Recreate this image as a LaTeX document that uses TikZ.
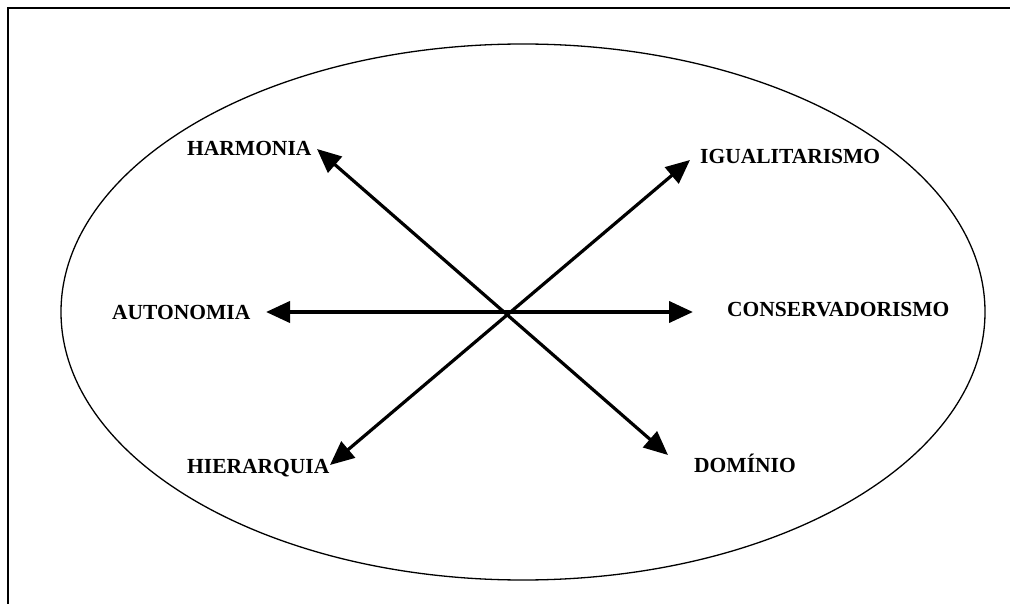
\documentclass[tikz,border=0pt]{standalone}
\usepackage{fontspec}
\setmainfont{Liberation Serif}
\usetikzlibrary{positioning,arrows.meta}

\tikzset{
  valor/.style={font=\fontsize{21.5}{25}\selectfont\bfseries, inner sep=0pt},
  seta/.style={{Triangle[length=24pt,width=21pt]}-{Triangle[length=24pt,width=21pt]}, line width=3.2pt},
}

\begin{document}
\begin{tikzpicture}[x=1pt,y=-1pt]

\useasboundingbox (0,0) rectangle (1010,604);

% moldura
\draw[line width=1.5pt] (1010,8) --(8,8) --(8,604);

\draw[line width=1.3pt] (523,312) ellipse [x radius=462, y radius=268];

% pontas das setas
\coordinate (c) at (510,312);
\coordinate (pH) at (317,149);
\coordinate (pI) at (690,160);
\coordinate (pA) at (266,312);
\coordinate (pC) at (693,312);
\coordinate (pHi) at (330,465);
\coordinate (pD) at (668,455);

\draw[seta] (pH) -- (pD);
\draw[seta] (pHi) -- (pI);
\draw[seta, line width=4pt] (pA) -- (pC);

% valores
\node[valor, anchor=west] (harmonia) at (187,148) {HARMONIA};
\node[valor, anchor=west] (igual) at (700,156) {IGUALITARISMO};
\node[valor, anchor=west] (auto) at (112,312) {AUTONOMIA};
\node[valor, anchor=west] (cons) at (727,310) {CONSERVADORISMO};
\node[valor, anchor=west] (hier) at (187,468) {HIERARQUIA};
\node[valor, anchor=west] (dom) at (694,463) {DOMÍNIO};

\end{tikzpicture}
\end{document}
